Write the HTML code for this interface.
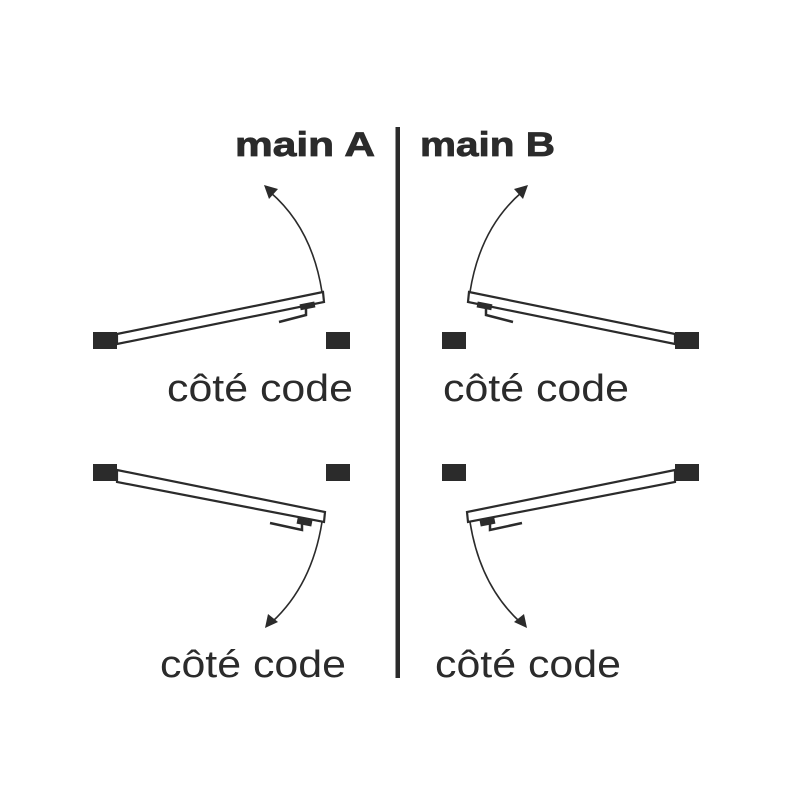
<!DOCTYPE html>
<html><head><meta charset="utf-8"><style>
html,body{margin:0;padding:0;background:#fff;}
svg{display:block}
</style></head><body>
<svg width="800" height="800" viewBox="0 0 800 800" xmlns="http://www.w3.org/2000/svg">
<rect width="800" height="800" fill="#fff"/>
<g id="L">
  <rect x="93" y="332" width="24" height="17" fill="#2b2b2b"/>
  <rect x="326" y="332" width="24" height="17" fill="#2b2b2b"/>
  <polygon points="117,334 323,292 324,302 117,344" fill="#fff" stroke="#2b2b2b" stroke-width="2.2"/>
  <rect x="300" y="303" width="15" height="6" fill="#2b2b2b" transform="rotate(-11 307 306)"/>
  <polyline points="306,308 306,315 279,322" fill="none" stroke="#2b2b2b" stroke-width="2.5"/>
  <path d="M322,292 Q312,228 270,192" fill="none" stroke="#2b2b2b" stroke-width="1.6"/>
  <polygon points="264,185 278,189 269,199" fill="#2b2b2b"/>
  <rect x="93" y="464" width="24" height="17" fill="#2b2b2b"/>
  <rect x="326" y="464" width="24" height="17" fill="#2b2b2b"/>
  <polygon points="117,470 325,512 324,522 117,482" fill="#fff" stroke="#2b2b2b" stroke-width="2.2"/>
  <rect x="297" y="519" width="15" height="6" fill="#2b2b2b" transform="rotate(11 304 522)"/>
  <polyline points="270,523 302,530 302,524" fill="none" stroke="#2b2b2b" stroke-width="2.5"/>
  <path d="M322,522 Q312,585 272,622" fill="none" stroke="#2b2b2b" stroke-width="1.6"/>
  <polygon points="265,628 268,614 278,622" fill="#2b2b2b"/>
</g>
<use href="#L" transform="translate(792,0) scale(-1,1)"/>
<rect x="395.5" y="127" width="4.5" height="551" fill="#2b2b2b"/>
<g font-family="Liberation Sans, sans-serif" fill="#2b2b2b">
  <text x="235" y="156" font-size="34" font-weight="bold" stroke="#2b2b2b" stroke-width="0.8" textLength="140" lengthAdjust="spacingAndGlyphs">main A</text>
  <text x="420" y="156" font-size="34" font-weight="bold" stroke="#2b2b2b" stroke-width="0.8" textLength="135" lengthAdjust="spacingAndGlyphs">main B</text>
  <text x="167" y="401" font-size="38" textLength="186" lengthAdjust="spacingAndGlyphs">côté code</text>
  <text x="443" y="401" font-size="38" textLength="186" lengthAdjust="spacingAndGlyphs">côté code</text>
  <text x="160" y="677" font-size="38" textLength="186" lengthAdjust="spacingAndGlyphs">côté code</text>
  <text x="435" y="677" font-size="38" textLength="186" lengthAdjust="spacingAndGlyphs">côté code</text>
</g>
</svg>
</body></html>
